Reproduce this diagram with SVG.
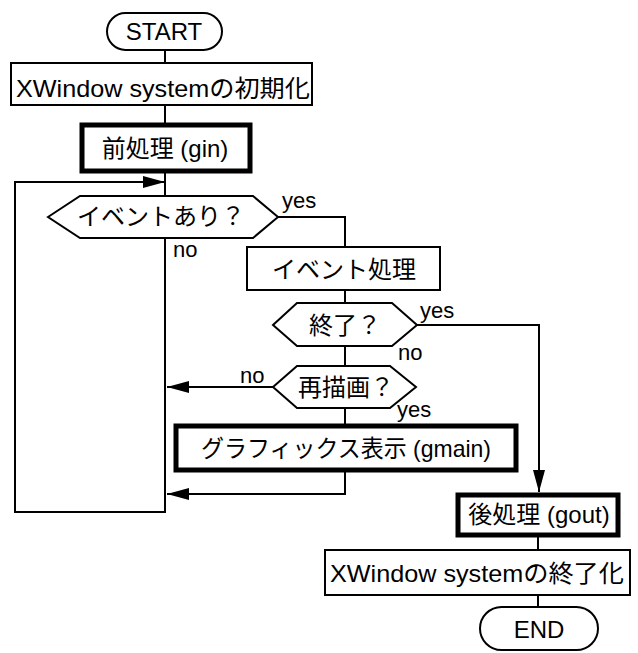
<svg xmlns="http://www.w3.org/2000/svg" width="638" height="653" viewBox="0 0 638 653">
<defs>
<style>
.t{font-family:"Liberation Sans","Noto Sans CJK JP",sans-serif;font-size:24px;fill:#000;text-anchor:middle}
.l{font-family:"Liberation Sans","Noto Sans CJK JP",sans-serif;font-size:22px;fill:#000}
.s{fill:#fff;stroke:#000;stroke-width:2}
.k{fill:#fff;stroke:#000;stroke-width:5}
.c{fill:none;stroke:#000;stroke-width:2}
</style>
<marker id="ah" markerUnits="userSpaceOnUse" markerWidth="22" markerHeight="12" refX="22" refY="6" orient="auto">
<path d="M0,0 L22,6 L0,12 z" fill="#000"/>
</marker>
</defs>
<rect width="638" height="653" fill="#fff"/>
<g id="connectors">
<path class="c" d="M165,50 V63"/>
<path class="c" d="M165,105 V123"/>
<path class="c" d="M165,173 V196"/>
<path class="c" d="M165,238 V512 H15 V182 H165" marker-end="url(#ah)"/>
<path class="c" d="M278,217 H345 V247"/>
<path class="c" d="M345,290 V303"/>
<path class="c" d="M417,325 H539 V492" marker-end="url(#ah)"/>
<path class="c" d="M345,346 V366"/>
<path class="c" d="M273,387 H167" marker-end="url(#ah)"/>
<path class="c" d="M345,408 V424"/>
<path class="c" d="M345,472 V494 H167" marker-end="url(#ah)"/>
<path class="c" d="M538,537 V550"/>
<path class="c" d="M538,595 V607"/>
<text class="l" x="282" y="208">yes</text>
<text class="l" x="173" y="257">no</text>
<text class="l" x="420" y="318">yes</text>
<text class="l" x="398" y="360">no</text>
<text class="l" x="240" y="383">no</text>
<text class="l" x="397" y="417">yes</text>
</g>
<g id="start">
<rect class="s" x="107" y="13" width="115" height="37" rx="18.5"/>
<text class="t" x="164" y="40">START</text>
</g>
<g id="init">
<rect class="s" x="11" y="63" width="301" height="42"/>
<text class="t" x="163" y="97" textLength="294" lengthAdjust="spacingAndGlyphs">XWindow systemの初期化</text>
</g>
<g id="gin">
<rect class="k" x="82" y="125" width="168" height="46"/>
<text class="t" x="165" y="157">前処理 (gin)</text>
</g>
<g id="event-check">
<polygon class="s" points="48,217 80,196 253,196 278,217 253,238 80,238"/>
<text class="t" x="161" y="225">イベントあり？</text>
</g>
<g id="event-proc">
<rect class="s" x="247" y="247" width="193" height="43"/>
<text class="t" x="344" y="278">イベント処理</text>
</g>
<g id="end-check">
<polygon class="s" points="273,325 297,303 392,303 417,325 392,346 297,346"/>
<text class="t" x="345" y="334">終了？</text>
</g>
<g id="redraw-check">
<polygon class="s" points="273,387 297,366 390,366 416,387 390,408 297,408"/>
<text class="t" x="346" y="396">再描画？</text>
</g>
<g id="gmain">
<rect class="k" x="176" y="426" width="340" height="44"/>
<text class="t" x="346" y="457" textLength="290" lengthAdjust="spacingAndGlyphs">グラフィックス表示 (gmain)</text>
</g>
<g id="gout">
<rect class="k" x="458" y="495" width="160" height="40"/>
<text class="t" x="539" y="523">後処理 (gout)</text>
</g>
<g id="term">
<rect class="s" x="325" y="550" width="305" height="45"/>
<text class="t" x="477" y="582" textLength="294" lengthAdjust="spacingAndGlyphs">XWindow systemの終了化</text>
</g>
<g id="end">
<rect class="s" x="480" y="607" width="118" height="43" rx="21.5"/>
<text class="t" x="539" y="638">END</text>
</g>
</svg>
